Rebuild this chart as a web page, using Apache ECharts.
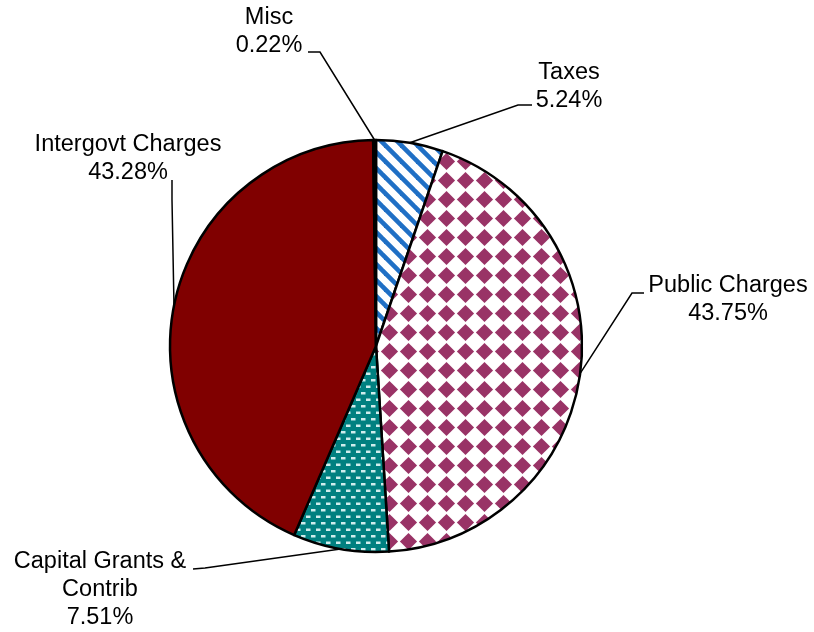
<!DOCTYPE html>
<html>
<head>
<meta charset="utf-8">
<script src="https://cdn.jsdelivr.net/npm/echarts@6/dist/echarts.min.js"></script>
<style>
  html, body { margin: 0; padding: 0; background: #ffffff; }
  #chart { width: 814px; height: 632px; }
</style>
</head>
<body>
<div id="chart"></div>
<script>
// Revenue sources, share of total (%), clockwise from 12 o'clock
const categories = ['Taxes', 'Public Charges', 'Capital Grants & Contrib', 'Intergovt Charges', 'Misc'];
const shares = [5.24, 43.75, 7.51, 43.28, 0.22];

// Label block centres and leader-line bend/end points (layout only)
const labelSpots = {
  'Taxes':                    { x: 569, y: 87,  line: [[518, 105], [532, 105]] },
  'Public Charges':           { x: 728, y: 300, line: [[632, 293], [644, 293]] },
  'Capital Grants & Contrib': { x: 100, y: 590, line: [[205, 568], [193, 569]] },
  'Intergovt Charges':        { x: 128, y: 159, line: [[172, 200], [172, 180]] },
  'Misc':                     { x: 269, y: 32,  line: [[320, 52], [308, 52]] }
};

function makeCanvas(w, h) {
  const c = document.createElement('canvas');
  c.width = w; c.height = h;
  return c;
}

// white with blue downward diagonal stripes
function stripeFill() {
  const P = 16;
  const c = makeCanvas(P, P);
  const ctx = c.getContext('2d');
  ctx.fillStyle = '#ffffff';
  ctx.fillRect(0, 0, P, P);
  ctx.strokeStyle = '#1F6FC5';
  ctx.lineWidth = 4.6;
  for (let k = -1; k <= 1; k++) {
    ctx.beginPath();
    ctx.moveTo(k * P - 4, -4);
    ctx.lineTo(k * P + P + 4, P + 4);
    ctx.stroke();
  }
  return { image: c, repeat: 'repeat' };
}

// white with plum diamonds
function diamondFill() {
  const P = 19;
  const c = makeCanvas(P, P);
  const ctx = c.getContext('2d');
  ctx.fillStyle = '#ffffff';
  ctx.fillRect(0, 0, P, P);
  ctx.fillStyle = '#993366';
  const h = 8.6, m = P / 2;
  ctx.beginPath();
  ctx.moveTo(m, m - h);
  ctx.lineTo(m + h, m);
  ctx.lineTo(m, m + h);
  ctx.lineTo(m - h, m);
  ctx.closePath();
  ctx.fill();
  return { image: c, repeat: 'repeat' };
}

// teal with staggered white dashes
function dashFill() {
  const W = 10, H = 13;
  const c = makeCanvas(W, H);
  const ctx = c.getContext('2d');
  ctx.fillStyle = '#008080';
  ctx.fillRect(0, 0, W, H);
  ctx.fillStyle = 'rgba(230,248,248,0.9)';
  ctx.fillRect(1, 2, 4.5, 2.5);
  ctx.fillRect(6, 8.5, 4.5, 2.5);
  ctx.fillRect(-4, 8.5, 4.5, 2.5);
  return { image: c, repeat: 'repeat' };
}

const fills = [stripeFill(), diamondFill(), dashFill(), '#800000', '#000000'];

const chart = echarts.init(document.getElementById('chart'), null, { renderer: 'canvas' });

chart.setOption({
  backgroundColor: '#ffffff',
  animation: false,
  series: [{
    type: 'pie',
    center: [376, 346],
    radius: 206,
    startAngle: 90,
    clockwise: true,
    minAngle: 0,
    avoidLabelOverlap: false,
    emphasis: { disabled: true },
    itemStyle: { borderColor: '#000000', borderWidth: 2.5 },
    label: {
      show: true,
      position: 'outside',
      color: '#000000',
      fontFamily: '"Liberation Sans", Arial, sans-serif',
      fontSize: 23.5,
      lineHeight: 28,
      formatter: function (p) {
        return p.name.replace('& ', '&\n') + '\n' + p.value.toFixed(2) + '%';
      }
    },
    labelLine: {
      show: true,
      length: 10,
      length2: 10,
      lineStyle: { color: '#000000', width: 1.5 }
    },
    labelLayout: function (params) {
      const spot = labelSpots[categories[params.dataIndex]];
      const start = params.labelLinePoints[0];
      return {
        x: spot.x,
        y: spot.y,
        align: 'center',
        verticalAlign: 'middle',
        labelLinePoints: [start].concat(spot.line)
      };
    },
    data: categories.map(function (name, i) {
      return { name: name, value: shares[i], itemStyle: { color: fills[i] } };
    })
  }]
});
</script>
</body>
</html>
